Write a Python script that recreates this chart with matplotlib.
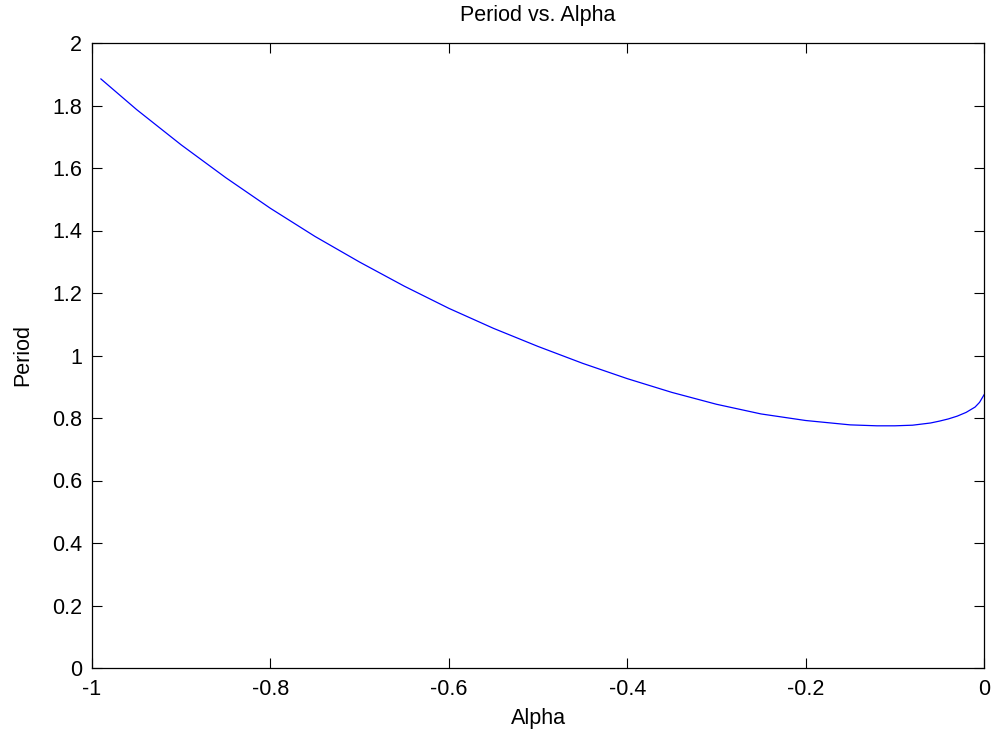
import matplotlib
matplotlib.use("Agg")
import matplotlib.pyplot as plt
import numpy as np

plt.rcParams['font.family'] = ['Liberation Sans', 'DejaVu Sans']

alpha = [-0.99, -0.95, -0.90, -0.85, -0.80, -0.75, -0.70, -0.65, -0.60, -0.55,
         -0.50, -0.45, -0.40, -0.35, -0.30, -0.25, -0.20, -0.15, -0.12, -0.10,
         -0.08, -0.06, -0.05, -0.04, -0.03, -0.02, -0.01, -0.005, 0.0]
period = [1.885, 1.787, 1.674, 1.569, 1.471, 1.381, 1.299, 1.222, 1.151, 1.087,
          1.029, 0.975, 0.926, 0.882, 0.844, 0.813, 0.792, 0.778, 0.775, 0.775,
          0.777, 0.784, 0.790, 0.797, 0.806, 0.818, 0.835, 0.850, 0.874]

xticks = [-1, -0.8, -0.6, -0.4, -0.2, 0]
xtick_labels = ['-1', '-0.8', '-0.6', '-0.4', '-0.2', '0']
yticks = [0, 0.2, 0.4, 0.6, 0.8, 1, 1.2, 1.4, 1.6, 1.8, 2]
ytick_labels = ['0', '0.2', '0.4', '0.6', '0.8', '1', '1.2', '1.4', '1.6', '1.8', '2']

W, H = 993, 738
fig = plt.figure(figsize=(W / 100, H / 100), dpi=100)
left, right, top, bottom = 92, 984, 43, 668
ax = fig.add_axes([left / W, 1 - bottom / H, (right - left) / W, (bottom - top) / H])

ax.plot(alpha, period, color='#0000ff', lw=0.9)

ax.set_xlim(-1, 0)
ax.set_ylim(0, 2)
ax.set_xticks(xticks)
ax.set_xticklabels(xtick_labels)
ax.set_yticks(yticks)
ax.set_yticklabels(ytick_labels)

fs = 15.5
ax.tick_params(direction='in', length=7, width=0.8, top=True, right=True,
               labelsize=fs, colors='black', pad=7)
ax.tick_params(axis='x', pad=8)
for s in ax.spines.values():
    s.set_linewidth(0.9)
    s.set_color('black')

ax.set_title('Period vs. Alpha', fontsize=fs, pad=16)
ax.set_xlabel('Alpha', fontsize=fs)
ax.set_ylabel('Period', fontsize=fs)
ax.xaxis.set_label_coords(0.5, -0.064)
ax.yaxis.set_label_coords(-0.066, 0.5)

fig.savefig('out.png', dpi=100, facecolor='white')
